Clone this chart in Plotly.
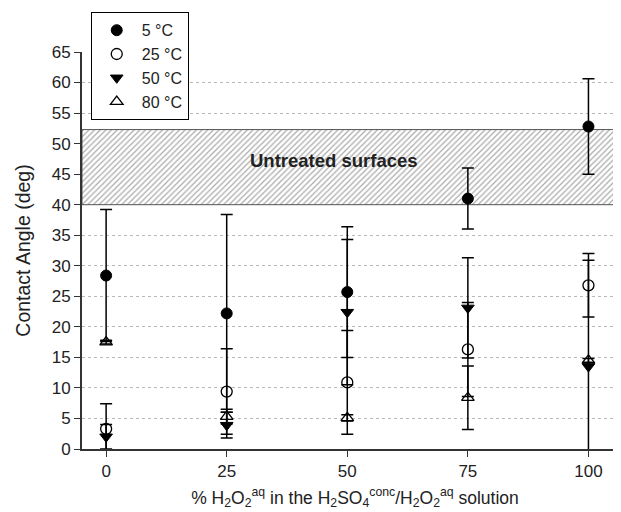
import plotly.graph_objects as go

# ---- data ----
categories = [0, 25, 50, 75, 100]
series_names = ["5 °C", "25 °C", "50 °C", "80 °C"]
vals_5 = [28.4, 22.2, 25.7, 41.0, 52.8]
err_5 = [10.8, 16.2, 10.7, 5.0, 7.8]
vals_25 = [3.3, 9.4, 10.9, 16.3, 26.8]
err_25 = [4.1, 7.0, 8.5, 7.7, 5.2]
vals_50 = [2.0, 3.9, 22.4, 23.1, 13.5]
err_50 = [2.0, 2.1, 11.9, 8.2, 17.4]
vals_80 = [17.5, 5.3, 5.1, 8.4, 14.5]
err_80 = [0.3, 1.2, 0.5, 5.2, 0.3]
band_low, band_high = 40, 52.3
band_label = "Untreated surfaces"
x_range = [-5, 108.2]
y_ticks = list(range(0, 70, 5))
x_ticks = [0, 25, 50, 75, 100]

FONT = "Liberation Sans, Arial, sans-serif"
TXT = "#222222"
fig = go.Figure()

# hatched band
fig.add_trace(go.Scatter(
    x=[x_range[0], x_range[1], x_range[1], x_range[0], x_range[0]],
    y=[band_low, band_low, band_high, band_high, band_low],
    mode="lines", fill="toself", fillcolor="white",
    fillpattern=dict(shape="/", fgcolor="#555555", bgcolor="white", size=4, solidity=0.3),
    line=dict(color="#555555", width=1), showlegend=False, hoverinfo="skip"))

styles = [
    dict(symbol="circle", color="black", line=dict(color="black", width=1)),
    dict(symbol="circle-open", color="black", line=dict(color="black", width=1.3)),
    dict(symbol="triangle-down", color="black", line=dict(color="black", width=1)),
    dict(symbol="triangle-up-open", color="black", line=dict(color="black", width=1.3)),
]
data = [(vals_5, err_5), (vals_25, err_25), (vals_50, err_50), (vals_80, err_80)]
for name, (v, e), st in zip(series_names, data, styles):
    fig.add_trace(go.Scatter(
        x=categories, y=v, mode="markers", name=name,
        marker=dict(size=11, **st),
        error_y=dict(type="data", array=e, visible=True, color="black", thickness=1.5, width=6),
    ))

fig.add_annotation(x=47.3, y=47.2, text="<b>" + band_label + "</b>", showarrow=False,
                   font=dict(family=FONT, size=18.5, color=TXT))

fig.update_layout(
    width=621, height=512,
    margin=dict(l=74, r=1, t=44, b=71),
    paper_bgcolor="white", plot_bgcolor="white",
    font=dict(family=FONT, size=17, color=TXT),
    legend=dict(x=0.016, y=1.1, xanchor="left", yanchor="top",
                bgcolor="white", bordercolor="black", borderwidth=1,
                font=dict(family=FONT, size=16, color=TXT),
                tracegroupgap=0, itemwidth=40),
    showlegend=True,
)
fig.update_xaxes(range=x_range, tickvals=x_ticks, ticks="outside", ticklen=6,
                 showline=True, linecolor="#333333", linewidth=2, showgrid=False,
                 zeroline=False, tickcolor="#333333", tickfont=dict(size=17, color=TXT),
                 title=dict(text="% H<sub>2</sub>O<sub>2</sub><sup>aq</sup> in the H<sub>2</sub>SO<sub>4</sub><sup>conc</sup>/H<sub>2</sub>O<sub>2</sub><sup>aq</sup> solution",
                            font=dict(size=17.5, color=TXT, family=FONT), standoff=11))
fig.update_yaxes(range=[0, 65], tickvals=y_ticks, ticks="outside", ticklen=6,
                 showline=True, linecolor="#333333", linewidth=2,
                 showgrid=True, gridcolor="#b8b8b8", griddash="dot", gridwidth=1,
                 zeroline=False, tickcolor="#333333", tickfont=dict(size=17, color=TXT),
                 title=dict(text="Contact Angle (deg)", font=dict(size=19.5, color=TXT, family=FONT), standoff=16))

fig.write_html("out.html")
